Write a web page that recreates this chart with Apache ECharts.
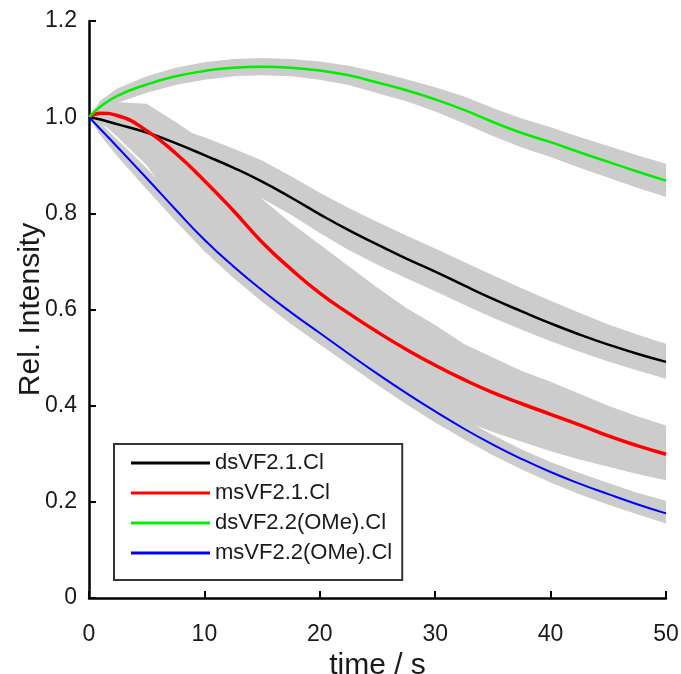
<!DOCTYPE html>
<html>
<head>
<meta charset="utf-8">
<script src="https://cdn.jsdelivr.net/npm/echarts@6/dist/echarts.min.js"></script>
<style>
  html, body { margin: 0; padding: 0; background: #fff; }
  #chart { width: 681px; height: 674px; }
</style>
</head>
<body>
<div id="chart"></div>
<script>
// time points (s)
const times = [0, 1, 2.5, 5, 7.5, 10, 12.5, 15, 17.5, 20, 22.5, 25, 27.5, 30, 32.5, 35, 37.5, 40, 42.5, 45, 47.5, 50];

const seriesNames = ['dsVF2.1.Cl', 'msVF2.1.Cl', 'dsVF2.2(OMe).Cl', 'msVF2.2(OMe).Cl'];

// mean curves
const dsVF21 = [1.000, 0.995, 0.985, 0.968, 0.946, 0.921, 0.895, 0.866, 0.833, 0.798, 0.765, 0.735, 0.706, 0.679, 0.650, 0.622, 0.596, 0.571, 0.548, 0.527, 0.508, 0.491];
const msVF21 = [1.000, 1.008, 1.003, 0.972, 0.925, 0.868, 0.806, 0.740, 0.684, 0.634, 0.592, 0.553, 0.517, 0.484, 0.454, 0.427, 0.404, 0.382, 0.360, 0.337, 0.317, 0.299];
const dsVF22 = [1.000, 1.022, 1.045, 1.068, 1.085, 1.096, 1.103, 1.105, 1.103, 1.097, 1.087, 1.072, 1.056, 1.037, 1.015, 0.990, 0.967, 0.948, 0.927, 0.907, 0.887, 0.868];
const msVF22 = [1.000, 0.975, 0.937, 0.873, 0.808, 0.745, 0.690, 0.640, 0.594, 0.551, 0.508, 0.466, 0.426, 0.388, 0.352, 0.319, 0.289, 0.262, 0.238, 0.216, 0.195, 0.176];

// error band limits
const dsVF21Hi = [1.000, 1.004, 1.005, 0.995, 0.978, 0.958, 0.935, 0.910, 0.877, 0.843, 0.811, 0.782, 0.754, 0.727, 0.699, 0.671, 0.644, 0.618, 0.593, 0.569, 0.548, 0.529];
const dsVF21Lo = [1.000, 0.985, 0.970, 0.945, 0.918, 0.890, 0.860, 0.831, 0.797, 0.759, 0.724, 0.693, 0.665, 0.638, 0.610, 0.583, 0.558, 0.534, 0.512, 0.492, 0.473, 0.456];
const msVF21Hi = [1.000, 1.025, 1.031, 1.028, 0.990, 0.950, 0.890, 0.830, 0.780, 0.735, 0.690, 0.645, 0.603, 0.568, 0.528, 0.500, 0.472, 0.450, 0.425, 0.400, 0.378, 0.359];
const msVF21Lo = [1.000, 0.990, 0.958, 0.900, 0.815, 0.755, 0.700, 0.645, 0.600, 0.555, 0.515, 0.476, 0.436, 0.400, 0.368, 0.345, 0.325, 0.305, 0.288, 0.273, 0.258, 0.245];
const dsVF22Hi = [1.000, 1.035, 1.060, 1.085, 1.103, 1.114, 1.121, 1.123, 1.121, 1.116, 1.107, 1.094, 1.079, 1.062, 1.043, 1.019, 0.997, 0.979, 0.959, 0.940, 0.921, 0.903];
const dsVF22Lo = [1.000, 1.009, 1.030, 1.051, 1.067, 1.078, 1.085, 1.087, 1.085, 1.078, 1.067, 1.050, 1.033, 1.012, 0.987, 0.961, 0.937, 0.917, 0.895, 0.874, 0.853, 0.834];
const msVF22Hi = [1.000, 0.988, 0.952, 0.894, 0.829, 0.766, 0.711, 0.661, 0.615, 0.572, 0.529, 0.487, 0.447, 0.408, 0.372, 0.339, 0.309, 0.283, 0.260, 0.239, 0.219, 0.202];
const msVF22Lo = [1.000, 0.962, 0.917, 0.850, 0.784, 0.721, 0.666, 0.616, 0.570, 0.527, 0.485, 0.443, 0.403, 0.365, 0.330, 0.297, 0.267, 0.240, 0.216, 0.194, 0.174, 0.155];

const xTicks = [0, 10, 20, 30, 40, 50];
const yTicks = [0, 0.2, 0.4, 0.6, 0.8, 1.0, 1.2];

const means = [dsVF21, msVF21, dsVF22, msVF22];
const bands = [[dsVF21Hi, dsVF21Lo], [msVF21Hi, msVF21Lo], [dsVF22Hi, dsVF22Lo], [msVF22Hi, msVF22Lo]];
const colors = ['#000000', '#ff0000', '#00ee00', '#0000ff'];
const widths = [2.5, 3.5, 2.5, 2];

const font = 'Liberation Sans, Arial, sans-serif';
const chart = echarts.init(document.getElementById('chart'), null, { renderer: 'canvas' });

const bandSeries = {
  type: 'custom',
  name: 'bands',
  silent: true,
  z: 1,
  data: bands.map((b, i) => [i, 0]),
  renderItem: function (params, api) {
    const b = bands[params.dataIndex];
    const pts = [];
    for (let i = 0; i < times.length; i++) pts.push(api.coord([times[i], b[0][i]]));
    for (let i = times.length - 1; i >= 0; i--) pts.push(api.coord([times[i], b[1][i]]));
    return { type: 'polygon', shape: { points: pts }, style: { fill: '#cccccc', stroke: null } };
  }
};

const lineSeries = seriesNames.map((name, k) => ({
  type: 'line',
  name: name,
  z: 3,
  smooth: true,
  symbol: 'none',
  color: colors[k],
  lineStyle: { color: colors[k], width: widths[k] },
  data: times.map((t, i) => [t, means[k][i]])
}));

chart.setOption({
  animation: false,
  backgroundColor: '#ffffff',
  grid: { left: 89, right: 15, top: 21, bottom: 76, containLabel: false, outerBoundsMode: 'none' },
  legend: {
    data: seriesNames,
    orient: 'vertical',
    left: 114,
    top: 444,
    itemWidth: 79,
    itemHeight: 3,
    itemGap: 8,
    padding: [8, 10, 16, 17],
    borderColor: '#333333',
    borderWidth: 2,
    backgroundColor: '#ffffff',
    icon: 'rect',
    textStyle: { fontFamily: font, fontSize: 22, color: '#1a1a1a' }
  },
  xAxis: {
    type: 'value',
    min: xTicks[0],
    max: xTicks[xTicks.length - 1],
    interval: 10,
    name: 'time / s',
    nameLocation: 'middle',
    nameGap: 52,
    nameTextStyle: { fontFamily: font, fontSize: 30, color: '#1a1a1a' },
    splitLine: { show: false },
    axisLine: { lineStyle: { color: '#000', width: 2.5 } },
    axisTick: { inside: true, length: 7, lineStyle: { color: '#000', width: 2 } },
    axisLabel: { fontFamily: font, fontSize: 23, color: '#1a1a1a', margin: 25 }
  },
  yAxis: {
    type: 'value',
    min: yTicks[0],
    max: yTicks[yTicks.length - 1],
    interval: 0.2,
    name: 'Rel. Intensity',
    nameLocation: 'middle',
    nameGap: 43,
    nameMoveOverlap: false,
    nameTextStyle: { fontFamily: font, fontSize: 30, color: '#1a1a1a' },
    splitLine: { show: false },
    axisLine: { lineStyle: { color: '#000', width: 2.5 } },
    axisTick: { inside: true, length: 7, lineStyle: { color: '#000', width: 2 } },
    axisLabel: {
      fontFamily: font, fontSize: 23, color: '#1a1a1a', margin: 12,
      formatter: v => (v === 0 ? '0' : v.toFixed(1))
    }
  },
  series: [bandSeries].concat(lineSeries)
});
</script>
</body>
</html>
